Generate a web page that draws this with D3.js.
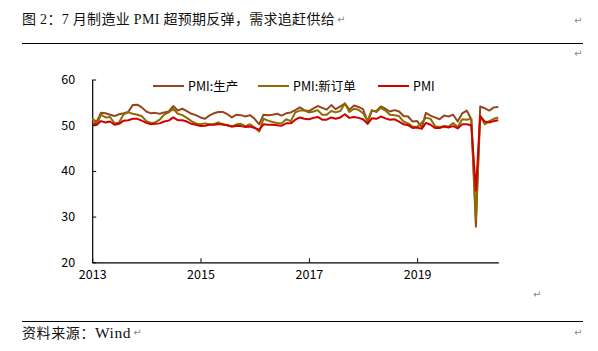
<!DOCTYPE html>
<html>
<head>
<meta charset="utf-8">
<script src="https://cdn.jsdelivr.net/npm/d3@7"></script>
<style>
  body { margin: 0; background: #fff; }
  svg { display: block; }
</style>
</head>
<body>
<script>
// monthly data, 2013-01 .. 2020-07
const startMonth = '2013-01'
const production = [
  51.3, 50.8, 52.7, 52.6, 52.3, 52.0, 52.4, 52.6, 52.9, 54.4, 54.5, 53.9,
  53.0, 52.6, 52.7, 52.5, 52.8, 53.0, 54.2, 53.2, 53.6, 53.1, 52.5, 52.2,
  51.7, 51.4, 52.1, 52.6, 52.9, 52.9, 52.4, 51.7, 52.3, 52.2, 51.9, 52.2,
  51.4, 50.2, 52.3, 52.2, 52.3, 52.5, 52.1, 52.6, 52.8, 53.3, 53.9, 53.3,
  53.1, 53.7, 54.2, 53.8, 53.4, 54.4, 53.5, 54.1, 54.7, 53.4, 54.3, 54.0,
  53.5, 50.7, 53.1, 53.1, 54.1, 53.6, 53.0, 53.3, 53.0, 52.0, 51.9, 50.8,
  50.9, 49.5, 52.7, 52.1, 51.7, 51.3, 52.1, 51.9, 52.3, 50.8, 52.6, 53.2,
  51.3, 27.8, 54.1, 53.7, 53.2, 53.9, 54.0
]
const newOrders = [
  51.6, 50.1, 52.3, 51.7, 51.8, 50.4, 50.6, 52.4, 52.8, 52.5, 52.3, 52.0,
  50.9, 50.5, 50.6, 51.2, 52.3, 52.8, 53.6, 52.5, 52.2, 51.6, 50.9, 50.4,
  50.2, 50.4, 50.2, 50.2, 50.6, 50.1, 50.0, 49.7, 50.2, 50.3, 49.8, 50.2,
  49.5, 48.6, 51.4, 51.0, 50.7, 50.5, 50.4, 51.3, 50.9, 52.8, 53.2, 53.2,
  52.8, 53.0, 53.3, 52.3, 52.3, 53.1, 52.8, 53.1, 54.8, 52.9, 53.6, 53.4,
  52.6, 51.0, 53.3, 52.9, 53.8, 53.2, 52.3, 52.2, 52.0, 50.8, 50.4, 49.7,
  49.6, 50.6, 51.6, 51.4, 49.8, 49.6, 49.8, 49.7, 50.5, 49.6, 51.3, 51.2,
  51.4, 29.3, 52.0, 50.2, 50.9, 51.4, 51.7
]
const pmi = [
  50.4, 50.1, 50.9, 50.6, 50.8, 50.1, 50.3, 51.0, 51.1, 51.4, 51.4, 51.0,
  50.5, 50.2, 50.3, 50.4, 50.8, 51.0, 51.7, 51.1, 51.1, 50.8, 50.3, 50.1,
  49.8, 49.9, 50.1, 50.1, 50.2, 50.2, 50.0, 49.7, 49.8, 49.8, 49.6, 49.7,
  49.4, 49.0, 50.2, 50.1, 50.1, 50.0, 49.9, 50.4, 50.4, 51.2, 51.7, 51.4,
  51.3, 51.6, 51.8, 51.2, 51.2, 51.7, 51.4, 51.7, 52.4, 51.6, 51.8, 51.6,
  51.3, 50.3, 51.5, 51.4, 51.9, 51.5, 51.2, 51.3, 50.8, 50.2, 50.0, 49.4,
  49.5, 49.2, 50.5, 50.1, 49.4, 49.4, 49.7, 49.5, 49.8, 49.3, 50.2, 50.2,
  50.0, 35.7, 52.0, 50.8, 50.6, 50.9, 51.1
]
const seriesNames = ['PMI:生产', 'PMI:新订单', 'PMI']
const seriesColors = ['#95461c', '#8a6e00', '#d00000']
const yTicks = [20, 30, 40, 50, 60]
const xTickYears = ['2013', '2015', '2017', '2019']

const width = 598
const height = 351
const margin = { top: 79.5, left: 92.2, right: 99.7, bottom: 88.7 }

const svg = d3.select('body').append('svg')
  .attr('width', width)
  .attr('height', height)

// ---- header / footer (word doc look)
const serif = '"Liberation Serif", "Noto Sans CJK SC", serif'
const title = svg.append('text')
  .attr('x', 22).attr('y', 23.5)
  .attr('font-family', serif)
  .attr('font-size', 14)
  .attr('letter-spacing', 0.3)
  .attr('fill', '#111')
  .text('图 2：7 月制造业 PMI 超预期反弹，需求追赶供给')

const mark = (x, y) => svg.append('text')
  .attr('x', x).attr('y', y)
  .attr('font-family', '"DejaVu Sans", sans-serif')
  .attr('font-size', 10)
  .attr('fill', '#888')
  .text('↵')

svg.append('line')
  .attr('x1', 22).attr('x2', 583)
  .attr('y1', 43.5).attr('y2', 43.5)
  .attr('stroke', '#000').attr('stroke-width', 1)

svg.append('line')
  .attr('x1', 22).attr('x2', 583)
  .attr('y1', 321.5).attr('y2', 321.5)
  .attr('stroke', '#000').attr('stroke-width', 1)

const foot = svg.append('text')
  .attr('x', 22).attr('y', 337.5)
  .attr('font-family', serif)
  .attr('font-size', 14)
  .attr('letter-spacing', 0.6)
  .attr('fill', '#111')
foot.append('tspan').text('资料来源：')
foot.append('tspan').attr('font-size', 15.5).text('Wind')

// paragraph marks right after the texts and at the right margin
mark(22 + title.node().getComputedTextLength() + 2, 23)
mark(574, 24)
mark(574, 57)
mark(533, 298)
mark(22 + foot.node().getComputedTextLength() + 2, 336)
mark(574, 336)

// ---- chart
const parse = d3.timeParse('%Y-%m')
const t0 = parse(startMonth)
const dates = pmi.map((d, i) => d3.timeMonth.offset(t0, i))

const x = d3.scaleTime()
  .domain([t0, dates[dates.length - 1]])
  .range([margin.left, width - margin.right])
const y = d3.scaleLinear()
  .domain([20, 60])
  .range([height - margin.bottom, margin.top])

const sans = '"Noto Sans CJK SC", "Open Sans", sans-serif'

// axes
const xAxis = d3.axisBottom(x)
  .tickValues(xTickYears.map(s => parse(s + '-01')))
  .tickFormat(d3.timeFormat('%Y'))
  .tickSizeInner(-4).tickSizeOuter(0).tickPadding(8)
const yAxis = d3.axisLeft(y)
  .tickValues(yTicks)
  .tickSizeInner(-4).tickSizeOuter(0).tickPadding(17)

const gx = svg.append('g')
  .attr('transform', `translate(0, ${y(20)})`)
  .call(xAxis)
const gy = svg.append('g')
  .attr('transform', `translate(${x(t0)}, 0)`)
  .call(yAxis)

;[gx, gy].forEach(g => {
  g.select('.domain').attr('stroke', '#000').attr('stroke-width', 1.2)
  g.selectAll('.tick line').attr('stroke', '#000')
  g.selectAll('.tick text')
    .attr('font-family', sans)
    .attr('font-size', 12.5)
    .attr('fill', '#000')
})

// lines
const line = d3.line()
  .x((d, i) => x(dates[i]))
  .y(d => y(d))

const allSeries = [production, newOrders, pmi]
allSeries.forEach((s, k) => {
  svg.append('path')
    .datum(s)
    .attr('fill', 'none')
    .attr('stroke', seriesColors[k])
    .attr('stroke-width', 2)
    .attr('stroke-linejoin', 'round')
    .attr('d', line)
})

// legend
const legendX = [153, 258, 378]
const legend = svg.append('g')
seriesNames.forEach((name, k) => {
  legend.append('line')
    .attr('x1', legendX[k]).attr('x2', legendX[k] + 31)
    .attr('y1', 86).attr('y2', 86)
    .attr('stroke', seriesColors[k])
    .attr('stroke-width', 2)
  legend.append('text')
    .attr('x', legendX[k] + 35)
    .attr('y', 90.5)
    .attr('font-family', sans)
    .attr('font-size', 12.5)
    .attr('fill', '#000')
    .text(name)
})
</script>
</body>
</html>
